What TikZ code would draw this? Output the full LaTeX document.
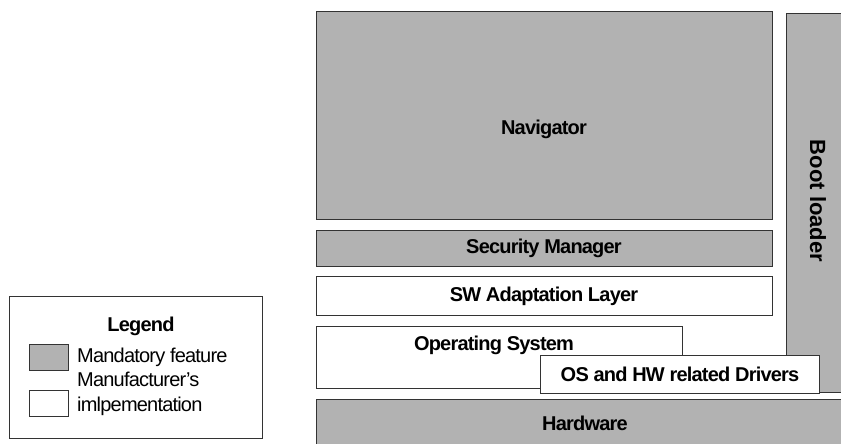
\documentclass[tikz,border=0pt]{standalone}
\usepackage{fontspec}
\setmainfont{Liberation Sans}[LetterSpace=-4]
\newfontfamily\bootfont{Liberation Sans}
\definecolor{mandgray}{HTML}{B2B2B2}
\definecolor{edge}{HTML}{333333}
\tikzset{
  gbox/.style={draw=edge, line width=0.9pt, fill=mandgray, rectangle, inner sep=0pt},
  wbox/.style={draw=edge, line width=0.9pt, fill=white, rectangle, inner sep=0pt},
  lbl/.style={inner sep=0pt, font=\fontsize{20}{22}\selectfont\bfseries},
  ltxt/.style={inner sep=0pt, font=\fontsize{20}{25}\selectfont, align=left, anchor=west},
}
\begin{document}
\begin{tikzpicture}[x=1pt, y=-1pt]
\useasboundingbox (0,0) rectangle (841,444);
\clip (0,0) rectangle (841,444);
% boot loader
\node[gbox, minimum width=80, minimum height=379, anchor=north west] (boot) at (786,13) {};
\node[inner sep=0pt, font=\bootfont\fontsize{22}{24}\selectfont\bfseries, rotate=-90] (bootl) at (818,201) {Boot loader};
% navigator
\node[gbox, minimum width=456, minimum height=208, anchor=north west] (nav) at (316,11) {};
\node[lbl] (navl) at (544,129) {Navigator};
% security manager
\node[gbox, minimum width=456, minimum height=36, anchor=north west] (sec) at (316,230) {};
\node[lbl] (secl) at (544,248) {Security Manager};
% SW adaptation layer
\node[wbox, minimum width=456, minimum height=39, anchor=north west] (swa) at (316,276) {};
\node[lbl] (swal) at (544,296) {SW Adaptation Layer};
% operating system
\node[wbox, minimum width=366, minimum height=62, anchor=north west] (os) at (316,326) {};
\node[lbl] (osl) at (494,345) {Operating System};
% drivers
\node[wbox, minimum width=279, minimum height=38, anchor=north west] (drv) at (540,355) {};
\node[lbl] (drvl) at (680,374) {OS and HW related Drivers};
% hardware
\node[gbox, minimum width=540, minimum height=60, anchor=north west] (hw) at (316,399) {};
\node[lbl] (hwl) at (585,423) {Hardware};
% legend
\node[wbox, minimum width=253, minimum height=142, anchor=north west] (leg) at (9,296) {};
\node[lbl] (legt) at (141,326) {Legend};
\node[gbox, minimum width=39, minimum height=26, anchor=north west] (sw1) at (29,344) {};
\node[ltxt] (lt1) at (77,357) {Mandatory feature};
\node[wbox, minimum width=39, minimum height=26, anchor=north west] (sw2) at (29,390) {};
\node[ltxt] (lt2) at (77,394) {Manufacturer's\\imlpementation};
\end{tikzpicture}
\end{document}
